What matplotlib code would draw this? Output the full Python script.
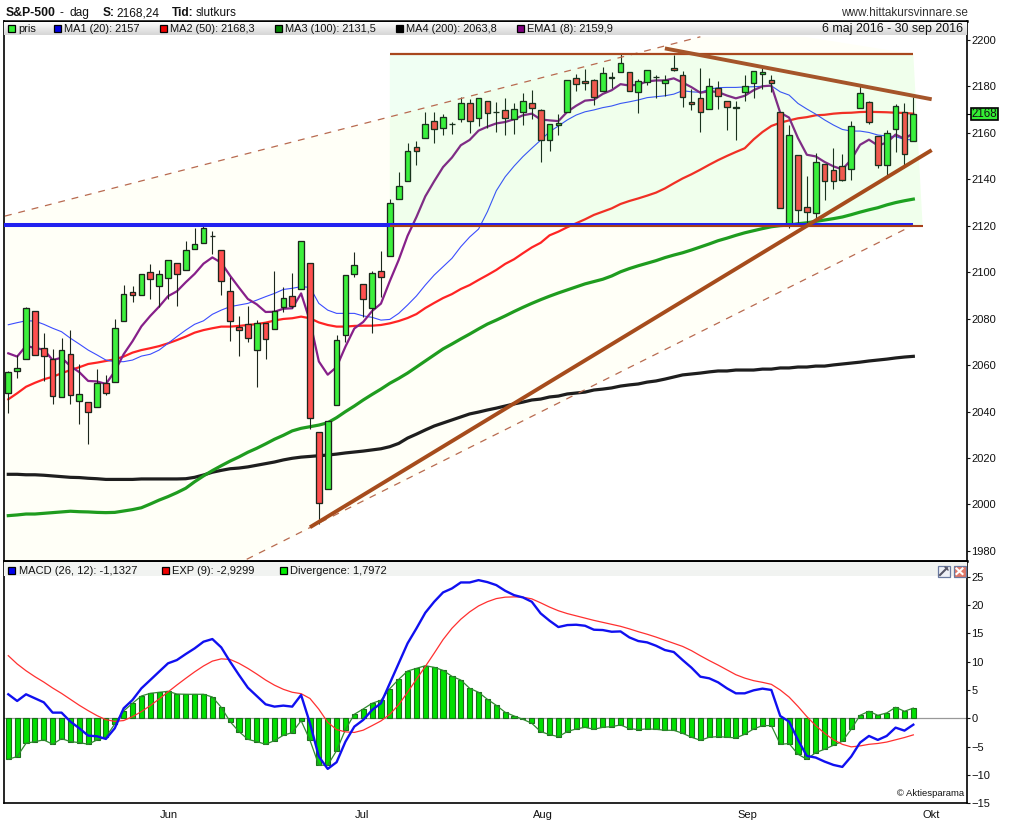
import numpy as np
import matplotlib
matplotlib.use("Agg")
import matplotlib.pyplot as plt
from matplotlib.patches import Polygon, Rectangle
from matplotlib.lines import Line2D
from matplotlib.transforms import Affine2D

plt.rcParams["font.family"] = ["Liberation Sans", "DejaVu Sans"]

# S&P-500 dagskurser, 6 maj - 30 sep 2016 (avlasta fran bilden)
OPENS = [2047.8, 2057.5, 2062.6, 2083.3, 2067.2, 2062.5, 2046.5, 2065.0, 2044.4, 2044.2, 2041.9, 2052.2, 2052.6, 2078.9, 2091.4, 2090.1, 2100.1,
         2093.9, 2097.7, 2104.1, 2100.8, 2110.2, 2112.7, 2115.6, 2109.6, 2091.8, 2076.6, 2077.6, 2066.4, 2078.2, 2075.6, 2085.2, 2089.8, 2092.8, 2103.8, 2031.4, 2006.7, 2042.7, 2073.2,
         2099.3, 2095.0, 2084.4, 2100.4, 2107.0, 2131.7, 2139.5, 2153.8, 2157.9, 2165.1, 2162.0, 2163.8, 2166.1, 2172.9, 2166.5, 2173.7, 2169.0, 2169.8, 2166.0, 2168.8,
         2173.1, 2169.9, 2156.8, 2163.5, 2168.8, 2183.8, 2182.2, 2182.8, 2178.0, 2183.7, 2186.1, 2186.2, 2177.8, 2181.9, 2184.2, 2181.6, 2187.8, 2185.1, 2173.3, 2175.1, 2170.2, 2179.4, 2173.6,
         2171.3, 2177.5, 2181.6, 2185.2, 2182.8, 2169.1, 2120.9, 2150.5, 2127.9, 2125.4, 2146.5, 2144.0, 2145.9, 2144.6, 2170.9, 2173.3, 2158.5, 2146.0, 2161.8, 2168.9, 2156.5]
HIGHS = [2057.7, 2064.2, 2084.9, 2083.3, 2074.0, 2066.8, 2071.9, 2075.2, 2060.6, 2044.2, 2058.3, 2055.6, 2079.7, 2094.7, 2094.3, 2099.1, 2103.5,
         2101.0, 2105.3, 2104.1, 2113.4, 2119.2, 2120.5, 2117.6, 2109.6, 2098.1, 2081.3, 2085.6, 2079.6, 2078.2, 2100.7, 2093.7, 2099.7, 2113.3, 2103.8, 2031.4, 2036.1, 2073.0, 2098.9,
         2108.7, 2095.0, 2100.7, 2109.1, 2131.7, 2143.2, 2155.8, 2156.4, 2169.0, 2169.0, 2168.3, 2164.6, 2175.6, 2174.6, 2175.1, 2173.7, 2173.5, 2175.0, 2172.9, 2177.1,
         2178.3, 2170.2, 2163.8, 2168.2, 2182.9, 2185.4, 2187.7, 2183.4, 2188.4, 2186.3, 2193.8, 2186.2, 2183.1, 2187.0, 2185.0, 2185.1, 2193.4, 2186.7, 2179.0, 2187.9, 2183.5, 2182.3, 2173.6,
         2173.6, 2184.9, 2186.6, 2187.9, 2184.9, 2169.1, 2163.3, 2150.5, 2141.3, 2151.3, 2146.5, 2153.6, 2150.8, 2165.1, 2180.0, 2173.8, 2158.5, 2161.1, 2172.4, 2172.7, 2175.3]
LOWS = [2039.5, 2054.3, 2062.6, 2064.5, 2053.1, 2043.1, 2046.5, 2043.1, 2034.5, 2025.9, 2041.9, 2047.3, 2052.6, 2078.9, 2087.1, 2090.1, 2088.7,
        2085.1, 2088.6, 2085.4, 2100.8, 2110.2, 2112.7, 2107.7, 2090.0, 2070.5, 2064.1, 2069.8, 2050.4, 2062.8, 2075.6, 2083.0, 2084.4, 2092.8, 2032.6, 1991.7, 2006.7, 2042.7, 2070.0,
        2097.9, 2080.9, 2074.0, 2089.4, 2107.0, 2131.7, 2139.5, 2146.2, 2157.9, 2155.8, 2159.1, 2159.4, 2164.9, 2159.8, 2163.2, 2162.0, 2160.2, 2159.1, 2159.7, 2163.5,
        2166.2, 2147.6, 2152.1, 2159.1, 2168.8, 2177.9, 2178.6, 2172.0, 2178.0, 2179.4, 2186.1, 2178.1, 2168.5, 2180.5, 2175.1, 2176.0, 2186.8, 2171.2, 2169.7, 2160.4, 2170.2, 2170.4, 2161.3,
        2157.1, 2173.6, 2175.1, 2179.1, 2177.5, 2127.8, 2119.1, 2120.3, 2119.9, 2122.4, 2131.2, 2135.9, 2139.2, 2139.6, 2170.9, 2164.0, 2145.0, 2141.5, 2151.8, 2145.2, 2156.5]
CLOSES = [2057.1, 2058.7, 2084.4, 2064.5, 2064.1, 2046.6, 2066.7, 2047.2, 2047.6, 2040.0, 2052.3, 2048.0, 2076.1, 2090.5, 2090.1, 2099.1, 2097.0,
          2099.3, 2105.3, 2099.1, 2109.4, 2112.1, 2119.1, 2115.5, 2096.1, 2079.1, 2075.3, 2071.5, 2078.0, 2071.2, 2083.3, 2088.9, 2085.5, 2113.3, 2037.4, 2000.5, 2036.1, 2070.8, 2098.9,
          2103.0, 2088.5, 2099.7, 2097.9, 2129.9, 2137.2, 2152.1, 2152.4, 2163.8, 2161.7, 2166.9, 2163.8, 2173.0, 2165.2, 2175.0, 2168.5, 2169.2, 2166.6, 2170.1, 2173.6,
          2170.8, 2157.0, 2163.8, 2164.3, 2182.9, 2180.9, 2181.7, 2175.5, 2185.8, 2184.1, 2190.2, 2178.2, 2182.2, 2187.0, 2183.9, 2182.6, 2186.9, 2175.4, 2172.5, 2169.0, 2180.4, 2176.1, 2171.0,
          2170.9, 2180.0, 2186.5, 2186.2, 2181.3, 2127.8, 2159.0, 2127.0, 2125.8, 2147.3, 2139.2, 2139.1, 2139.8, 2163.1, 2177.2, 2164.7, 2146.1, 2159.9, 2171.4, 2151.1, 2168.2]

MA1 = [2077.4, 2078.3, 2079.1, 2079.0, 2077.6, 2075.9, 2074.4, 2071.6, 2069.1, 2066.5, 2064.4, 2062.2, 2061.5, 2061.5, 2062.2, 2063.9, 2064.7,
       2066.5, 2069.4, 2072.3, 2075.1, 2077.6, 2079.1, 2081.9, 2083.7, 2085.2, 2085.9, 2086.6, 2088.0, 2089.5, 2090.9, 2092.6, 2093.1, 2093.8, 2093.5, 2086.6, 2083.7, 2082.3, 2082.3,
       2082.3, 2081.2, 2080.6, 2079.4, 2079.7, 2082.3, 2085.9, 2089.8, 2094.5, 2098.8, 2102.4, 2106.0, 2111.0, 2115.2, 2118.6, 2126.1, 2135.1, 2141.1, 2145.7, 2149.8,
       2153.4, 2156.9, 2160.5, 2163.0, 2165.6, 2167.7, 2169.1, 2169.9, 2170.9, 2171.6, 2172.7, 2173.4, 2174.2, 2175.2, 2175.6, 2176.0, 2176.7, 2178.2, 2177.7, 2177.5, 2178.8, 2179.5, 2179.6,
       2179.6, 2179.8, 2179.9, 2180.1, 2180.3, 2177.7, 2176.3, 2172.7, 2170.3, 2168.1, 2165.6, 2163.4, 2161.5, 2160.8, 2160.8, 2160.2, 2159.1, 2158.7, 2158.4, 2157.2, 2157.0]
MA2 = [2045.3, 2047.9, 2050.7, 2052.4, 2053.9, 2055.0, 2056.5, 2057.9, 2059.1, 2060.5, 2061.1, 2061.8, 2062.5, 2063.7, 2065.4, 2066.5, 2067.3,
       2068.2, 2069.4, 2070.8, 2072.3, 2074.0, 2075.1, 2075.9, 2076.6, 2076.6, 2076.9, 2077.3, 2077.7, 2078.3, 2079.2, 2079.9, 2080.2, 2080.9, 2080.2, 2078.4, 2077.3, 2076.6, 2076.6,
       2076.9, 2077.0, 2077.0, 2077.3, 2078.0, 2079.0, 2080.3, 2082.0, 2084.6, 2086.8, 2088.9, 2090.6, 2092.8, 2094.5, 2096.7, 2098.8, 2101.0, 2103.6, 2105.6, 2108.2,
       2110.7, 2112.7, 2115.9, 2117.5, 2119.4, 2121.1, 2122.8, 2124.7, 2126.1, 2127.5, 2129.4, 2130.7, 2131.8, 2133.0, 2134.3, 2136.1, 2138.3, 2140.4, 2142.2, 2144.2, 2146.3, 2148.3, 2150.1,
       2151.8, 2153.4, 2157.2, 2160.4, 2163.0, 2164.4, 2165.4, 2166.3, 2166.8, 2167.6, 2167.8, 2168.3, 2168.6, 2168.7, 2169.0, 2169.1, 2169.0, 2168.9, 2168.7, 2168.6, 2168.3]
MA3 = [1995.2, 1995.5, 1995.9, 1995.9, 1996.2, 1996.5, 1996.8, 1997.1, 1996.9, 1996.8, 1996.6, 1996.5, 1996.6, 1997.2, 1997.8, 1998.6, 2000.2,
       2001.9, 2003.4, 2005.1, 2007.0, 2009.8, 2012.3, 2014.6, 2016.7, 2018.7, 2020.5, 2022.5, 2024.2, 2026.1, 2028.1, 2029.8, 2031.7, 2032.8, 2033.5, 2034.2, 2035.2, 2037.4, 2040.0,
       2042.4, 2045.0, 2047.4, 2049.7, 2052.2, 2054.3, 2056.6, 2059.2, 2061.8, 2064.4, 2067.0, 2069.1, 2071.3, 2073.4, 2075.6, 2077.7, 2079.4, 2081.2, 2083.1, 2084.9,
       2086.6, 2088.2, 2089.7, 2091.1, 2092.4, 2093.7, 2095.0, 2096.0, 2097.0, 2098.4, 2100.2, 2101.6, 2102.8, 2103.9, 2105.0, 2106.3, 2107.4, 2108.4, 2109.6, 2110.9, 2112.2, 2113.6, 2114.7,
       2115.9, 2117.0, 2117.9, 2118.8, 2119.6, 2120.1, 2120.3, 2120.9, 2121.3, 2121.9, 2122.5, 2123.1, 2123.8, 2124.8, 2125.9, 2126.9, 2127.8, 2129.0, 2130.0, 2130.8, 2131.5]
MA4 = [2013.0, 2013.0, 2012.8, 2012.8, 2012.6, 2012.3, 2012.0, 2011.7, 2011.6, 2011.3, 2011.1, 2010.8, 2010.8, 2010.8, 2010.8, 2011.0, 2011.0,
       2011.0, 2011.0, 2011.0, 2011.1, 2011.7, 2012.7, 2013.9, 2014.7, 2015.4, 2015.7, 2016.2, 2016.9, 2017.6, 2018.3, 2019.2, 2019.9, 2020.4, 2020.7, 2021.0, 2021.3, 2021.7, 2022.2,
       2022.6, 2023.0, 2023.5, 2024.0, 2024.9, 2026.3, 2028.6, 2030.3, 2032.1, 2033.8, 2035.1, 2036.4, 2037.7, 2039.0, 2039.8, 2040.7, 2041.5, 2042.4, 2043.3, 2044.1,
       2045.0, 2045.4, 2046.3, 2046.7, 2047.6, 2048.0, 2048.4, 2049.3, 2049.7, 2050.2, 2051.0, 2051.5, 2051.9, 2052.7, 2053.2, 2054.0, 2054.9, 2055.8, 2056.2, 2056.6, 2057.1, 2057.5, 2057.5,
       2057.9, 2057.9, 2057.9, 2058.3, 2058.3, 2058.8, 2058.8, 2059.2, 2059.2, 2059.6, 2059.6, 2060.1, 2060.5, 2060.9, 2061.3, 2061.8, 2062.2, 2062.6, 2063.1, 2063.5, 2063.8]
EMA1 = [2065.1, 2063.7, 2068.3, 2067.4, 2066.7, 2062.2, 2063.2, 2059.6, 2057.0, 2053.2, 2053.0, 2051.9, 2057.3, 2064.7, 2070.3, 2076.7, 2081.2,
        2085.2, 2089.7, 2091.8, 2095.7, 2099.3, 2103.7, 2106.4, 2104.1, 2098.5, 2093.4, 2088.5, 2086.2, 2082.9, 2083.0, 2084.3, 2084.5, 2090.9, 2079.0, 2061.6, 2055.9, 2059.2, 2068.0,
        2075.8, 2078.6, 2083.3, 2086.5, 2096.2, 2105.3, 2115.7, 2123.8, 2132.7, 2139.2, 2145.3, 2149.4, 2154.7, 2157.0, 2161.0, 2162.7, 2164.1, 2164.7, 2165.9, 2167.6,
        2168.3, 2165.8, 2165.4, 2165.1, 2169.1, 2171.7, 2173.9, 2174.3, 2176.8, 2178.4, 2181.0, 2180.4, 2180.8, 2182.2, 2182.6, 2182.6, 2183.5, 2181.7, 2179.7, 2177.3, 2178.0, 2177.6, 2176.1,
        2174.9, 2176.0, 2178.4, 2180.1, 2180.4, 2168.7, 2166.6, 2157.8, 2150.6, 2149.9, 2147.5, 2145.6, 2144.3, 2148.5, 2154.9, 2157.1, 2154.6, 2155.8, 2159.3, 2157.5, 2159.9]

MACD = [4.24, 3.06, 4.24, 3.53, 2.82, 1.0, 1.0, -0.59, -1.76, -3.06, -3.18, -3.65, -1.76, 1.76, 3.24, 5.29, 6.76,
        8.24, 9.71, 10.29, 11.35, 12.35, 13.53, 14.0, 12.53, 10.0, 7.65, 5.41, 3.94, 2.47, 2.06, 2.24, 2.06, 4.12, -0.88, -6.76, -8.94, -7.76, -4.12,
        -1.47, -0.29, 1.47, 2.65, 6.18, 9.71, 13.24, 15.88, 18.65, 20.59, 22.24, 22.94, 24.0, 24.0, 24.41, 24.06, 23.53, 22.53, 21.76, 21.35,
        20.59, 18.53, 17.24, 16.12, 16.47, 16.53, 16.35, 15.65, 15.59, 15.29, 15.35, 14.29, 13.65, 13.41, 12.82, 12.06, 11.71, 10.29, 8.94, 7.35, 7.06, 6.35, 5.29,
        4.41, 4.41, 4.94, 5.24, 5.0, 0.41, -0.59, -3.82, -6.65, -6.94, -7.65, -8.24, -8.59, -6.76, -4.29, -3.12, -3.82, -3.12, -1.65, -2.18, -1.13]
EXP9 = [11.06, 9.6, 8.4, 7.35, 6.4, 5.35, 4.4, 3.35, 2.3, 1.35, 0.47, -0.25, -0.55, -0.4, 0.29, 1.18, 2.24,
        3.41, 4.65, 5.88, 7.06, 8.2, 9.24, 10.1, 10.5, 10.4, 9.71, 8.82, 7.82, 6.76, 5.85, 5.12, 4.6, 4.35, 3.5, 1.6, -0.7, -2.0, -2.4,
        -2.5, -2.1, -1.3, -0.47, 0.7, 2.4, 4.6, 6.9, 9.15, 11.5, 13.9, 15.9, 17.5, 18.8, 19.85, 20.6, 21.15, 21.4, 21.45, 21.4,
        21.1, 20.4, 19.65, 19.0, 18.5, 18.1, 17.7, 17.3, 16.95, 16.6, 16.25, 15.8, 15.3, 14.85, 14.35, 13.8, 13.25, 12.7, 11.95, 11.05, 10.2, 9.4, 8.55,
        7.7, 7.1, 6.65, 6.35, 6.0, 5.0, 3.75, 2.1, 0.3, -1.3, -2.65, -3.8, -4.6, -5.05, -4.88, -4.6, -4.45, -4.2, -3.8, -3.4, -2.93]
DIVERGENCE = [-7.24, -6.76, -4.41, -4.12, -3.82, -4.59, -3.59, -4.12, -4.29, -4.59, -3.82, -3.35, -1.0, 1.29, 2.65, 3.94, 4.41,
              4.59, 4.76, 4.29, 4.24, 4.24, 4.24, 3.76, 1.94, -0.59, -2.35, -3.71, -4.12, -4.59, -3.94, -3.0, -2.53, -0.41, -3.88, -8.29, -8.29, -5.71, -2.0,
              0.71, 1.65, 2.65, 3.18, 5.24, 6.88, 8.35, 8.82, 9.29, 9.0, 8.47, 7.41, 6.76, 5.29, 4.59, 3.35, 2.29, 1.06, 0.41, -0.18,
              -0.88, -2.35, -2.88, -3.24, -2.35, -1.88, -1.59, -1.94, -1.59, -1.47, -1.18, -1.82, -2.0, -1.88, -1.94, -2.12, -2.12, -2.65, -3.35, -3.88, -3.35, -3.24, -3.35,
              -3.47, -2.82, -1.88, -1.29, -1.29, -4.59, -4.47, -6.35, -7.24, -6.06, -5.47, -4.76, -4.06, -1.94, 0.53, 1.24, 0.53, 0.94, 1.94, 1.24, 1.8]

PRICE_TICKS = list(range(1980, 2201, 20))
MACD_TICKS = list(range(-15, 26, 5))
MONTH_POS = [18.1, 39.9, 60.3, 83.3, 104.0]
MONTH_LABELS = ["Jun", "Jul", "Aug", "Sep", "Okt"]

W, H = 1011, 826
fig = plt.figure(figsize=(W / 100, H / 100), dpi=100)
px = Affine2D().scale(1, -1).translate(0, H)   # pixlar fran ovre vanstra hornet


def panel(left, top, right, bottom, z=1):
    return fig.add_axes([left / W, 1 - bottom / H, (right - left) / W, (bottom - top) / H], zorder=z)


def txt(x, y, s, **kw):
    kw.setdefault("fontsize", 8)
    kw.setdefault("va", "center")
    kw.setdefault("color", "#111111")
    fig.text(x, y, s, transform=px, **kw)


def square(x0, x1, y0, y1, color, edge="black", lw=0.9):
    fig.add_artist(Rectangle((x0, y0), x1 - x0, y1 - y0, transform=px, facecolor=color, edgecolor=edge, linewidth=lw, zorder=10))


idx = np.arange(len(CLOSES))
o, h, l, c = map(np.array, (OPENS, HIGHS, LOWS, CLOSES))

# kurspanel
ax = panel(3.5, 21, 967, 561)
ax.set_xlim(-0.54, 108.05)
ax.set_ylim(1975.67, 2208.2)

# bakgrund: kanalen
ax.add_patch(Polygon([(-0.54, 2124), (78, 2201.4), (89.8, 2201.4), (102, 2194), (103.05, 2120), (102, 2120.3), (26.87, 1975.67), (-0.54, 1975.67)],
                     facecolor="#ffff00", alpha=0.03, edgecolor="none", zorder=0.5))

ax.plot(idx, MA4, color="#1e1e1e", lw=2.3, zorder=2)
ax.plot(idx, MA3, color="#1f9c1f", lw=2.3, zorder=2)
ax.plot(idx, MA2, color="#ff2424", lw=1.6, zorder=2)
ax.plot(idx, MA1, color="#3c4cff", lw=0.8, zorder=2)
ax.plot(idx, EMA1, color="#87208a", lw=1.6, zorder=2)

# candles
up = c >= o
ax.vlines(idx, l, h, color="#1c261c", lw=0.8, zorder=3)
ax.bar(idx, np.abs(c - o), bottom=np.minimum(o, c), width=0.64,
       color=np.where(up, "#3df03d", "#ff4f4f"), edgecolor="#1c261c", linewidth=0.95, zorder=3.1)

# gron ruta ovanpa candles
ax.add_patch(Polygon([(43, 2194), (102, 2194), (103.05, 2120), (43, 2120)], facecolor="#00ff40", alpha=0.06, edgecolor="none", zorder=4))

# trendlinjer
ax.plot([-0.54, 102], [2120.4, 2120.4], color="#2222f0", lw=2.9, solid_capstyle="butt", zorder=5)
ax.plot([43, 102], [2194, 2194], color="#a8481e", lw=1.6, solid_capstyle="butt", zorder=5.1)
ax.plot([43, 103.05], [2119.9, 2119.9], color="#a8401a", lw=1.5, solid_capstyle="butt", zorder=5.1)
ax.plot([-0.37, 78], [2124.2, 2201.4], color="#b86a50", lw=0.9, dashes=(5.5, 5.5), zorder=5)
ax.plot([26.87, 102], [1976.4, 2120.3], color="#b86a50", lw=0.9, dashes=(5.5, 5.5), zorder=5)
ax.plot([34, 104.07], [1990.2, 2152.6], color="#a64c1c", lw=2.8, solid_capstyle="butt", zorder=5.2)
ax.plot([74, 104.07], [2196.4, 2174.5], color="#a5552a", lw=2.8, solid_capstyle="butt", zorder=5.2)

ax.yaxis.tick_right()
ax.set_yticks(PRICE_TICKS)
ax.set_xticks([])
ax.tick_params(axis="y", length=2.5, width=0.8, labelsize=8, pad=0.8, colors="#111111")

# macd-panel
ax2 = panel(3.5, 561, 967, 803.3)
ax2.set_xlim(-0.54, 108.05)
ax2.set_ylim(-15.02, 27.79)
ax2.axhline(0, color="#999999", lw=0.9, zorder=1)
ax2.bar(idx, DIVERGENCE, width=0.58, color="#00e000", edgecolor="#1a701a", linewidth=0.8, zorder=2)
ax2.plot(idx, DIVERGENCE, color="#2e8b2e", lw=0.9, zorder=2.5)
ax2.plot(idx, EXP9, color="#ff3030", lw=0.9, zorder=3)
ax2.plot(idx, MACD, color="#1010f0", lw=1.7, zorder=3.1)
ax2.yaxis.tick_right()
ax2.set_yticks(MACD_TICKS)
ax2.set_xticks(MONTH_POS)
ax2.set_xticklabels(MONTH_LABELS)
ax2.tick_params(axis="y", length=2.5, width=0.8, labelsize=8, pad=0.8, colors="#111111")
ax2.tick_params(axis="x", length=0, labelsize=8, pad=5, colors="#111111")

for a in (ax, ax2):
    for s in a.spines.values():
        s.set_linewidth(1.2)
ax.spines["top"].set_linewidth(1.8)
ax2.spines["top"].set_linewidth(1.8)

# rubrikremsa (gradient)
strip = panel(4, 22, 966.5, 35.5, z=3)
strip.imshow(np.linspace(1.0, 0.84, 14).reshape(-1, 1), cmap="gray", vmin=0, vmax=1, aspect="auto")
strip.axis("off")
strip2 = panel(4, 562, 966.5, 576, z=3)
strip2.set_facecolor("#f1f3f1")
strip2.set_xticks([])
strip2.set_yticks([])
for s in strip2.spines.values():
    s.set_visible(False)

# titelrad
txt(6, 13, "S&P-500", fontsize=8.8, fontweight="bold")
txt(59.5, 13, "-", fontsize=8.6)
txt(69, 13, "dag", fontsize=8.6)
txt(102.5, 13, "S:", fontsize=8.6, fontweight="bold")
txt(116.5, 13, "2168,24", fontsize=8.6)
txt(172, 13, "Tid:", fontsize=8.6, fontweight="bold")
txt(195.5, 13, "slutkurs", fontsize=8.6)
txt(968, 13.5, "www.hittakursvinnare.se", fontsize=8.5, ha="right", color="#333333")

LEG_SQUARES = [(7.5, "#33ee33", "pris", 18.3), (53.5, "#0000e0", "MA1 (20): 2157", 64.3), (160, "#ee0000", "MA2 (50): 2168,3", 170.3),
               (274.5, "#008000", "MA3 (100): 2131,5", 285.3), (395.5, "#000000", "MA4 (200): 2063,8", 406.3), (516.5, "#800080", "EMA1 (8): 2159,9", 527.3)]
for x0, col, label, tx in LEG_SQUARES:
    square(x0, x0 + 7, 25, 32, col)
    txt(tx, 28.5, label, fontsize=7.9, zorder=11)
txt(963, 29, "6 maj 2016 - 30 sep 2016", fontsize=8.9, ha="right", zorder=11)

LOW_SQUARES = [(8, "#0000ee", "MACD (26, 12): -1,1327", 19.3), (161.5, "#ee0000", "EXP (9): -2,9299", 172.3), (279.5, "#00ee00", "Divergence: 1,7972", 290.5)]
for x0, col, label, tx in LOW_SQUARES:
    square(x0, x0 + 7, 567, 574, col)
    txt(tx, 570.5, label, fontsize=8.0, zorder=11)

# prislapp
square(970.7, 998, 107.5, 120, "#33ee33", lw=1.2)
txt(984.3, 114, "2168", fontsize=8.3, ha="center", zorder=11)
fig.add_artist(Line2D([967, 970.7], [113.5, 113.5], transform=px, color="black", lw=0.8))

# knappar
square(937.5, 949.5, 565.5, 577, "#eef0f6", "#6a7aa0")
fig.add_artist(Line2D([940, 947], [575, 568], transform=px, color="#555566", lw=1.5, zorder=11))
fig.add_artist(Line2D([945, 948], [567, 570], transform=px, color="#555566", lw=1.0, zorder=11))
square(953.5, 965.5, 565.5, 577, "#e07868", "#6a7aa0")
fig.add_artist(Line2D([956.5, 962.5], [568.5, 574], transform=px, color="white", lw=1.5, zorder=11))
fig.add_artist(Line2D([962.5, 956.5], [568.5, 574], transform=px, color="white", lw=1.5, zorder=11))

txt(897, 794, "\u00a9 Aktiesparama", fontsize=6.8, zorder=11)

fig.savefig("out.png", dpi=100)
